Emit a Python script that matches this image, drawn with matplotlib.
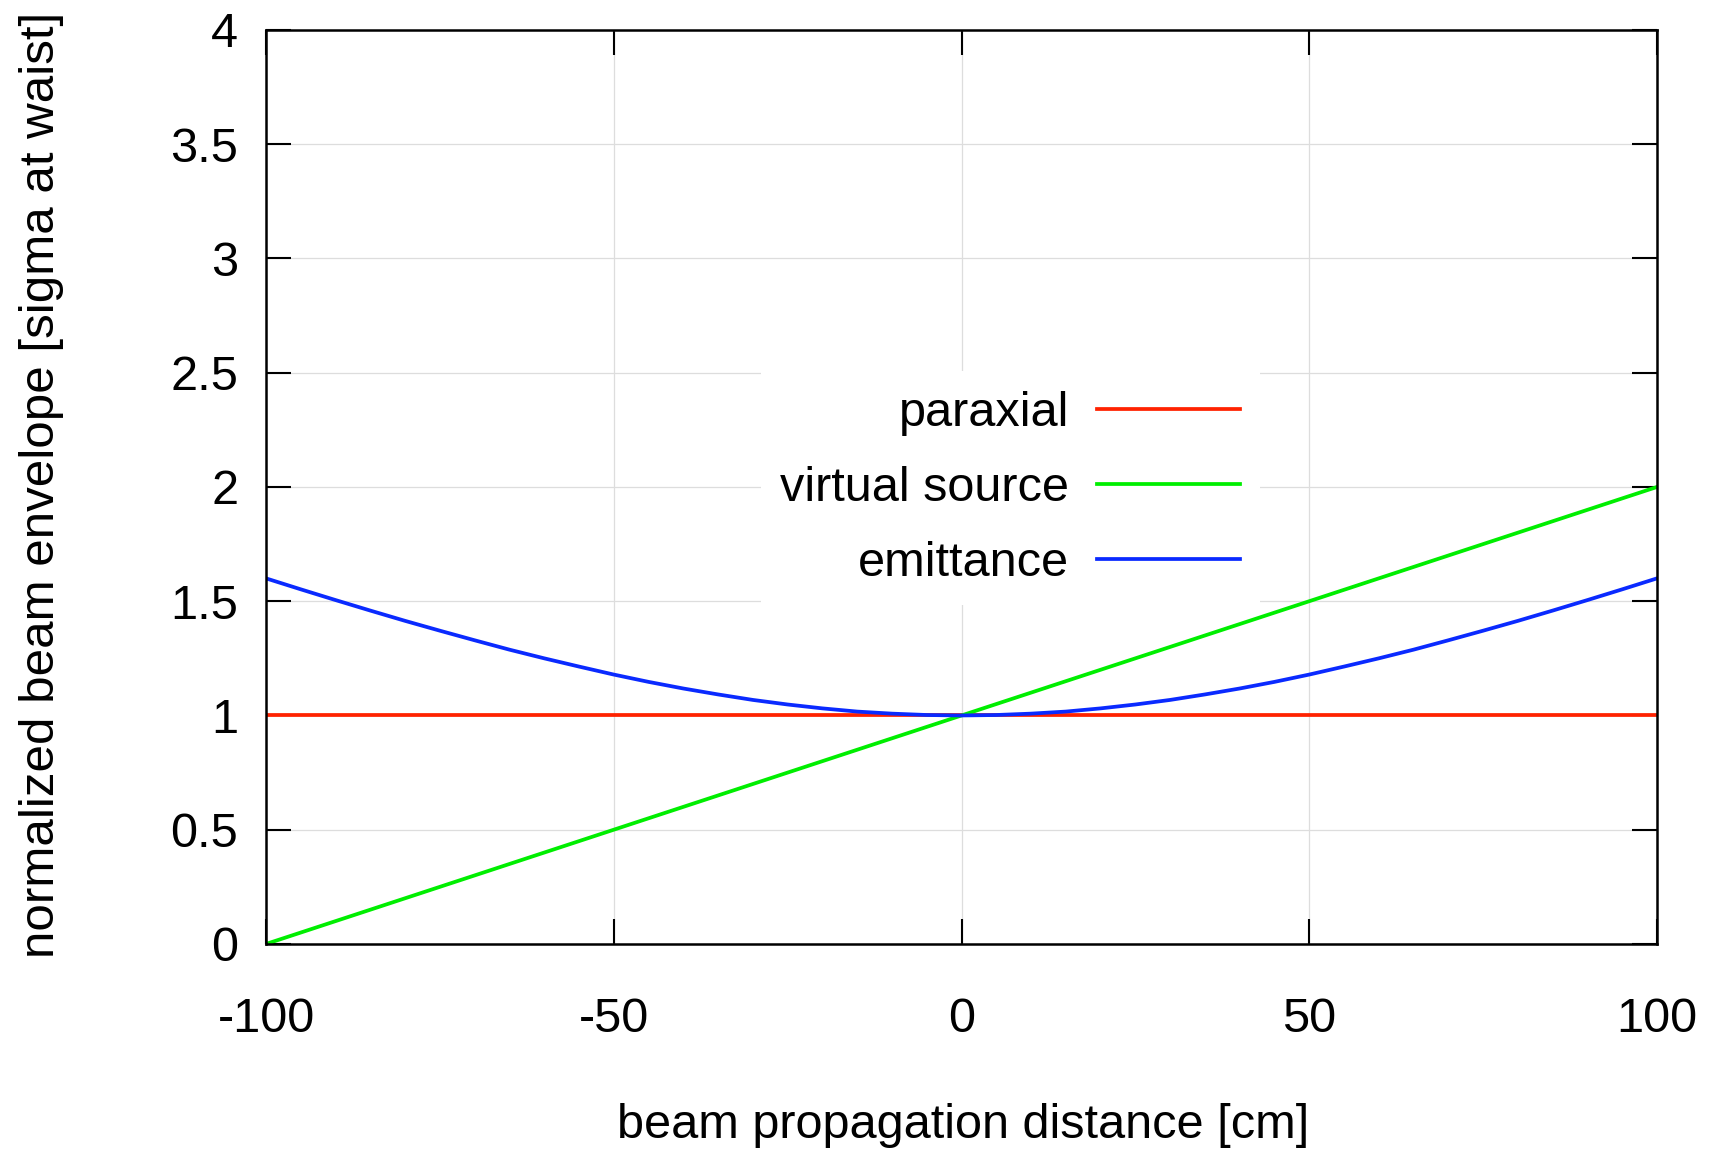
import matplotlib
matplotlib.use("Agg")
import matplotlib.pyplot as plt
from matplotlib.ticker import MultipleLocator, FormatStrFormatter

# values
distance_cm = [-100, -90, -80, -70, -60, -50, -40, -30, -20, -10, 0,
               10, 20, 30, 40, 50, 60, 70, 80, 90, 100]
paraxial = [1.0, 1.0, 1.0, 1.0, 1.0, 1.0, 1.0, 1.0, 1.0, 1.0, 1.0,
            1.0, 1.0, 1.0, 1.0, 1.0, 1.0, 1.0, 1.0, 1.0, 1.0]
virtual_source = [0.0, 0.1, 0.2, 0.3, 0.4, 0.5, 0.6, 0.7, 0.8, 0.9, 1.0,
                  1.1, 1.2, 1.3, 1.4, 1.5, 1.6, 1.7, 1.8, 1.9, 2.0]

emit_cm = [-100, -95, -90, -85, -80, -75, -70, -65, -60, -55, -50, -45, -40, -35,
           -30, -25, -20, -15, -10, -5, 0, 5, 10, 15, 20, 25, 30, 35, 40, 45,
           50, 55, 60, 65, 70, 75, 80, 85, 90, 95, 100]
emittance = [1.6, 1.552, 1.505, 1.459, 1.414, 1.371, 1.329, 1.288, 1.25, 1.214,
             1.179, 1.147, 1.118, 1.092, 1.068, 1.048, 1.031, 1.017, 1.008, 1.002,
             1.0, 1.002, 1.008, 1.017, 1.031, 1.048, 1.068, 1.092, 1.118, 1.147,
             1.179, 1.214, 1.25, 1.288, 1.329, 1.371, 1.414, 1.459, 1.505, 1.552, 1.6]

series_names = ["paraxial", "virtual source", "emittance"]
series_colors = ["#ff2200", "#00ee00", "#0a2aff"]

plt.rcParams['font.family'] = ['Liberation Sans', 'DejaVu Sans']
plt.rcParams['axes.unicode_minus'] = False

fig = plt.figure(figsize=(17.13, 11.53), dpi=100)
ax = fig.add_axes([0.1553, 0.1813, 0.8120, 0.7927])

xs = [distance_cm, distance_cm, emit_cm]
for x, vals, name, col in zip(xs, [paraxial, virtual_source, emittance], series_names, series_colors):
    ax.plot(x, vals, color=col, lw=2.7, label=name, zorder=3)

ax.set_xlim(-100, 100)
ax.set_ylim(0, 4)
ax.xaxis.set_major_locator(MultipleLocator(50))
ax.yaxis.set_major_locator(MultipleLocator(0.5))
ax.yaxis.set_major_formatter(FormatStrFormatter('%g'))
ax.grid(True, color="#dddddd", lw=0.9, zorder=0)
ax.set_axisbelow(True)

ax.tick_params(direction='in', length=18, width=1.5, top=True, right=True,
               labelsize=35, colors='black')
ax.tick_params(axis='x', pad=38)
ax.tick_params(axis='y', pad=20)
for sp in ax.spines.values():
    sp.set_linewidth(1.8)
    sp.set_zorder(4)

leg = ax.legend(loc='center', bbox_to_anchor=(0.5898, 0.5765), bbox_transform=fig.transFigure,
                markerfirst=False, fontsize=35, handlelength=2.94, handletextpad=0.58,
                labelspacing=0.62, frameon=True, fancybox=False, borderpad=0.4)
leg.get_frame().set_facecolor('white')
leg.get_frame().set_edgecolor('none')
leg.get_frame().set_alpha(1.0)
for t in leg.get_texts():
    t.set_ha('right')
leg._legend_box.align = "right"

fig.text(0.562, 0.024, "beam propagation distance [cm]", fontsize=35,
         ha='center', va='center')
fig.text(0.024, 0.579, "normalized beam envelope [sigma at waist]", fontsize=35.5,
         ha='center', va='center', rotation=90)

fig.savefig("out.png", dpi=100)
